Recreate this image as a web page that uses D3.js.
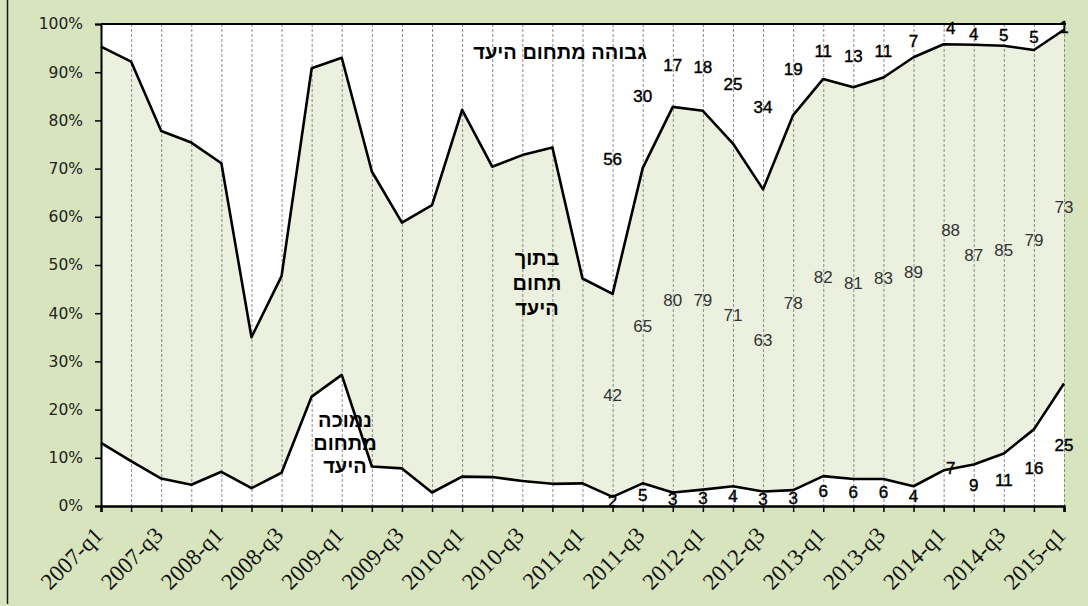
<!DOCTYPE html>
<html>
<head>
<meta charset="utf-8">
<script src="https://cdn.jsdelivr.net/npm/d3@7"></script>
<style>
  html, body { margin: 0; padding: 0; background: #d7e4bd; }
  svg { display: block; }
</style>
</head>
<body>
<script>
// ---------------- DATA ----------------
const quarters = [
  "2007-q1","2007-q2","2007-q3","2007-q4",
  "2008-q1","2008-q2","2008-q3","2008-q4",
  "2009-q1","2009-q2","2009-q3","2009-q4",
  "2010-q1","2010-q2","2010-q3","2010-q4",
  "2011-q1","2011-q2","2011-q3","2011-q4",
  "2012-q1","2012-q2","2012-q3","2012-q4",
  "2013-q1","2013-q2","2013-q3","2013-q4",
  "2014-q1","2014-q2","2014-q3","2014-q4",
  "2015-q1"
];
// share below the target range (%)
const below = [13.1, 9.3, 5.7, 4.4, 7.1, 3.7, 6.9, 22.7, 27.2, 8.2, 7.8, 2.8, 6.1, 6.0, 5.2, 4.6, 4.7,
               1.9, 4.7, 2.8, 3.4, 4.1, 3.0, 3.3, 6.2, 5.6, 5.6, 4.1, 7.4, 8.6, 10.9, 15.9, 25.4];
// share within the target range (%)
const within = [82.2, 82.9, 72.1, 71.0, 64.0, 31.3, 40.8, 68.1, 65.8, 61.2, 51.0, 59.6, 76.1, 64.4, 67.6, 69.8, 42.5,
                42.1, 65.4, 80.0, 78.6, 71.1, 62.7, 77.8, 82.4, 81.3, 83.3, 89.0, 88.4, 87.1, 84.6, 78.7, 73.4];
// share above the target range (%)
const above = [4.7, 7.8, 22.2, 24.6, 28.9, 65.0, 52.3, 9.2, 7.0, 30.6, 41.2, 37.6, 17.8, 29.6, 27.2, 25.6, 52.8,
               56.0, 29.9, 17.2, 18.0, 24.8, 34.3, 18.9, 11.4, 13.1, 11.1, 6.9, 4.2, 4.3, 4.5, 5.4, 1.2];
const yTicks = [0, 10, 20, 30, 40, 50, 60, 70, 80, 90, 100];
const xTickLabels = quarters.filter((q, i) => i % 2 === 0);
const firstLabeled = "2011-q2";
const labelAbove = "גבוהה מתחום היעד";
const labelWithin = ["בתוך", "תחום", "היעד"];
const labelBelow = ["נמוכה", "מתחום", "היעד"];

// ---------------- CHART ----------------
const W = 1088, H = 606;
const svg = d3.select("body").append("svg").attr("width", W).attr("height", H);

svg.append("rect").attr("width", W).attr("height", H).attr("fill", "#d7e4bd");
svg.append("line").attr("x1", 7.5).attr("x2", 7.5).attr("y1", 0).attr("y2", H - 2)
  .attr("stroke", "#1a1a1a").attr("stroke-width", 1.5);

const x = d3.scaleLinear().domain([0, quarters.length - 1]).range([101, 1064]);
const y = d3.scaleLinear().domain([0, 100]).range([506, 24]);

const data = quarters.map((q, i) => ({
  q, i, b: below[i], w: within[i], a: above[i], u: below[i] + within[i]
}));

// plot background
svg.append("rect").attr("x", x(0)).attr("y", y(100))
  .attr("width", x(quarters.length - 1) - x(0)).attr("height", y(0) - y(100))
  .attr("fill", "#ffffff");

// within-range band
svg.append("path").datum(data)
  .attr("d", d3.area().x(d => x(d.i)).y0(d => y(d.b)).y1(d => y(d.u)))
  .attr("fill", "#ebf1de");

// vertical dashed gridlines
svg.append("g").selectAll("line").data(d3.range(1, quarters.length)).join("line")
  .attr("x1", i => x(i) + 0.5).attr("x2", i => x(i) + 0.5)
  .attr("y1", y(100)).attr("y2", y(0))
  .attr("stroke", "#8a8a8a").attr("stroke-width", 1).attr("stroke-dasharray", "3,2");

// lines
const lineGen = acc => d3.line().x(d => x(d.i)).y(d => y(acc(d)));
svg.append("path").datum(data).attr("d", lineGen(d => d.b))
  .attr("fill", "none").attr("stroke", "#000").attr("stroke-width", 2.6).attr("stroke-linejoin", "round");
svg.append("path").datum(data).attr("d", lineGen(d => d.u))
  .attr("fill", "none").attr("stroke", "#000").attr("stroke-width", 2.6).attr("stroke-linejoin", "round");

// top border of plot
svg.append("line").attr("x1", x(0)).attr("x2", x(quarters.length - 1) + 2)
  .attr("y1", y(100)).attr("y2", y(100)).attr("stroke", "#000").attr("stroke-width", 2);

// y axis
const yAxis = svg.append("g").attr("transform", `translate(${x(0)},0)`)
  .call(d3.axisLeft(y).tickValues(yTicks).tickFormat(d => d + "%").tickSize(6).tickPadding(12));
yAxis.select(".domain").attr("stroke", "#000").attr("stroke-width", 2);
yAxis.selectAll(".tick line").attr("stroke", "#000").attr("stroke-width", 1.5);
yAxis.selectAll(".tick text").attr("font-family", "DejaVu Sans, Verdana, sans-serif")
  .attr("font-size", 15.5).attr("fill", "#222");

// x axis
const xAxis = svg.append("g").attr("transform", `translate(0,${y(0)})`)
  .call(d3.axisBottom(x).tickValues(d3.range(quarters.length))
    .tickFormat(i => xTickLabels.includes(quarters[i]) ? quarters[i] : "").tickSize(6));
xAxis.select(".domain").attr("stroke", "#000").attr("stroke-width", 2.5);
xAxis.selectAll(".tick line").attr("stroke", "#000").attr("stroke-width", 1.5);
xAxis.selectAll(".tick text")
  .attr("font-family", "Liberation Serif, Times New Roman, serif")
  .attr("font-size", 23).attr("fill", "#111")
  .attr("text-anchor", "end")
  .attr("transform", "translate(-3,25) rotate(-45)")
  .attr("y", 0).attr("dy", "0.35em");

// data labels
const nudge = { "2014-q1": { dx: 7, below: -20, within: -27, above: -6 } };
const startIdx = quarters.indexOf(firstLabeled);
const lab = svg.append("g").attr("font-family", "Liberation Sans, Arial, sans-serif")
  .attr("font-size", 17).attr("text-anchor", "middle");
data.filter(d => d.i >= startIdx).forEach(d => {
  const n = nudge[d.q] || { dx: 0, below: 0, within: 0, above: 0 };
  const segs = [
    { v: d.b, c: d.b / 2, k: "below" },
    { v: d.w, c: d.b + d.w / 2, k: "within" },
    { v: d.a, c: d.u + d.a / 2, k: "above" }
  ];
  segs.forEach(s => {
    const t = lab.append("text")
      .attr("x", x(d.i) + n.dx)
      .attr("y", y(s.c) + n[s.k])
      .attr("dy", "0.35em")
      .attr("fill", s.k === "within" ? "#333" : "#000")
      .text(Math.round(s.v));
    if (s.k !== "within") t.attr("stroke", "#000").attr("stroke-width", 0.4);
  });
});

// region labels
const hb = svg.append("g").attr("font-family", "Liberation Sans, Arial, sans-serif")
  .attr("font-weight", "bold").attr("font-size", 20).attr("text-anchor", "middle").attr("fill", "#000");
hb.append("text").attr("x", 560).attr("y", 59).text(labelAbove);
labelWithin.forEach((t, k) => hb.append("text").attr("x", 537).attr("y", 265 + k * 25).text(t));
labelBelow.forEach((t, k) => hb.append("text").attr("x", 345).attr("y", 427 + k * 23).text(t));
</script>
</body>
</html>
